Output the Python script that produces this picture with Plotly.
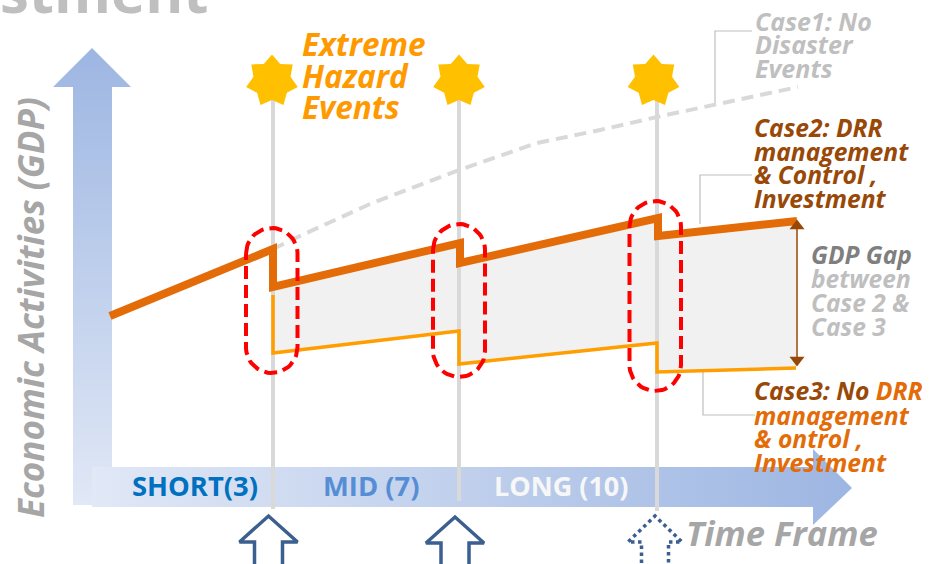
import numpy as np
import plotly.graph_objects as go

FONT = "Open Sans"

# Economic activity paths, x in frame units and y on the inverted activity scale
case1_x = [273, 300, 370, 459, 537, 600, 657, 715, 798]
case1_y = [249, 236, 204, 170, 143, 130, 117, 105, 87]
case2_x = [110, 273, 273, 460, 460, 658, 658, 797]
case2_y = [316, 249, 287, 243, 263, 218, 236, 221]
case3_x = [273, 273, 459, 459, 657, 657, 796]
case3_y = [295, 353, 331, 364, 343, 372, 368]

# Hazard events
event_x = [273, 459, 657]
event_top = [98, 98, 98]
event_bottom = [509, 501, 511]
star_x = [272, 459, 653.5]
star_y = [81, 81, 81]

# Dashed capsules around each event
capsule_left = [246, 433, 629.5]
capsule_right = [297.5, 485, 681]
capsule_top = [228, 224, 201]
capsule_bottom = [373, 377, 391]

# Hollow policy arrows under the axis
block_tip_x = [268.5, 455, 655]
block_tip_y = [516, 517, 516]
block_half_head = [29, 29, 27]
block_half_shaft = [14, 14, 13.5]
block_dash = ["solid", "solid", "dot"]

# Axis arrows
v_arrow_x = [73, 73, 53, 92, 131, 112, 112, 73]
v_arrow_y = [505, 87, 87, 48, 87, 87, 505, 505]
h_arrow_x = [92, 813, 813, 852, 813, 813, 92, 92]
h_arrow_y = [467, 467, 449, 488, 525, 507, 507, 467]

# Leader lines from the case labels
leader_x = [[715, 715, 752], [700, 700, 752], [703, 703, 755]]
leader_y = [[105, 31, 31], [224, 175, 175], [370, 415, 415]]

# GDP gap marker
gap_x = [797, 797]
gap_y = [226, 360]

ORANGE = "#E36C09"
AMBER = "#FF9E00"
BROWN = "#984807"
LIGHT = "#BFBFBF"

# Text: content, left edge, baseline, size, colour, italic
labels = [
    ("stment", -1, 13, 58, LIGHT, False),
    ("Extreme", 301, 56, 31.5, "#FF9900", True),
    ("Hazard", 301, 88, 31.5, "#FF9900", True),
    ("Events", 301, 119, 31.5, "#FF9900", True),
    ("Case1: No", 754, 31, 25, LIGHT, True),
    ("Disaster", 754, 54, 25, LIGHT, True),
    ("Events", 754, 78, 25, LIGHT, True),
    ("Case2: DRR", 753, 137, 24.6, BROWN, True),
    ("management", 753, 161, 24.6, BROWN, True),
    ("&amp; Control ,", 753, 184.5, 24.6, BROWN, True),
    ("Investment", 753, 208, 24.6, BROWN, True),
    ("GDP Gap", 810, 264, 24.5, "#7F7F7F", True),
    ("between", 810, 288, 24.5, LIGHT, True),
    ("Case 2 &amp;", 810, 312, 24.5, LIGHT, True),
    ("Case 3", 810, 336, 24.5, LIGHT, True),
    (f"<span style='color:{BROWN}'>Case3: No </span>DRR", 753, 400, 24.7, ORANGE, True),
    ("management", 753, 425, 24.7, ORANGE, True),
    ("&amp; ontrol ,", 753, 448, 24.7, ORANGE, True),
    ("Investment", 753, 472, 24.7, ORANGE, True),
    ("SHORT(3)", 131, 496, 27.4, "#0070C0", False),
    ("MID (7)", 322, 496, 27.4, "#558ED5", False),
    ("LONG (10)", 493, 496, 27, "#F7F7F7", False),
    ("Time Frame", 685, 546, 34.5, "#A6A6A6", True),
]


def star(cx, cy, outer=26.5, inner=19, points=7):
    angles = -np.pi / 2 + np.arange(2 * points + 1) * np.pi / points
    radii = np.where(np.arange(2 * points + 1) % 2 == 0, outer, inner)
    return cx + radii * np.cos(angles), cy + radii * np.sin(angles)


def capsule(left, right, top, bottom):
    r = (right - left) / 2
    cx = (left + right) / 2
    t = np.linspace(np.pi, 2 * np.pi, 30)
    xs = np.r_[cx + r * np.cos(t), cx - r * np.cos(t)]
    ys = np.r_[top + r + r * np.sin(t), bottom - r - r * np.sin(t)]
    return np.r_[xs, xs[0]], np.r_[ys, ys[0]]


def block_arrow(tip_x, tip_y, head, shaft, head_depth=26, foot=570):
    xs = [tip_x - shaft, tip_x - shaft, tip_x - head, tip_x, tip_x + head, tip_x + shaft, tip_x + shaft]
    ys = [foot, tip_y + head_depth, tip_y + head_depth, tip_y, tip_y + head_depth, tip_y + head_depth, foot]
    return xs, ys


def line(xs, ys, color, width, dash="solid", shape="linear"):
    return go.Scatter(x=xs, y=ys, mode="lines", hoverinfo="skip",
                      line=dict(color=color, width=width, dash=dash, shape=shape))


fig = go.Figure()

# Gradient axis arrows
fig.add_trace(go.Scatter(
    x=v_arrow_x, y=v_arrow_y, mode="none", fill="toself", hoverinfo="skip",
    fillgradient=dict(type="vertical", colorscale=[[0, "#E1E8F6"], [1, "#9DB6E2"]]),
))
fig.add_trace(go.Scatter(
    x=h_arrow_x, y=h_arrow_y, mode="none", fill="toself", hoverinfo="skip",
    fillgradient=dict(type="horizontal", colorscale=[[0, "#E1E8F6"], [1, "#9DB6E2"]]),
))

# Shaded band between the two disaster paths
band_x = case2_x[1:] + case3_x[::-1]
band_y = case2_y[1:] + case3_y[::-1]
fig.add_trace(go.Scatter(x=band_x, y=band_y, mode="none", fill="toself",
                         fillcolor="#F1F1F1", hoverinfo="skip"))

# Event lines and stars
for x, top, bottom in zip(event_x, event_top, event_bottom):
    fig.add_trace(line([x, x], [top, bottom], "#D9D9D9", 4))
for cx, cy in zip(star_x, star_y):
    sx, sy = star(cx, cy)
    fig.add_trace(go.Scatter(x=sx, y=sy, mode="none", fill="toself",
                             fillcolor="#FFC000", hoverinfo="skip"))

# Leader lines
for xs, ys in zip(leader_x, leader_y):
    fig.add_trace(line(xs, ys, LIGHT, 1.2))

# Outcome paths
fig.add_trace(line(case1_x, case1_y, "#D9D9D9", 4, dash="12px,7px"))
fig.add_trace(line(case3_x, case3_y, AMBER, 3.5))
fig.add_trace(line(case2_x, case2_y, ORANGE, 8))

# Double-headed gap marker
fig.add_trace(go.Scatter(
    x=gap_x, y=gap_y, mode="lines+markers", hoverinfo="skip",
    line=dict(color="#974706", width=1.5),
    marker=dict(symbol=["triangle-up", "triangle-down"], size=13, color="#974706"),
))

# Event capsules
for l, r, t, b in zip(capsule_left, capsule_right, capsule_top, capsule_bottom):
    cx_pts, cy_pts = capsule(l, r, t, b)
    fig.add_trace(line(cx_pts, cy_pts, "#FF0000", 4, dash="13px,6px"))

# Policy arrows
for tx, ty, hd, sh, dsh in zip(block_tip_x, block_tip_y, block_half_head, block_half_shaft, block_dash):
    bx, by = block_arrow(tx, ty, hd, sh)
    fig.add_trace(go.Scatter(x=bx, y=by, mode="lines", fill="toself", fillcolor="white",
                             hoverinfo="skip", line=dict(color="#3B5F8F", width=3.5, dash=dsh)))

for text, x, baseline, size, color, italic in labels:
    fig.add_annotation(
        x=x / 940, y=1 - (baseline - 0.389 * size) / 564, xref="paper", yref="paper",
        text=text, showarrow=False,
        xanchor="left", yanchor="middle", align="left", borderpad=0,
        font=dict(family=FONT, size=size, color=color, weight=700,
                  style="italic" if italic else "normal"),
    )

# Rotated y-axis title
fig.add_annotation(
    x=30 / 940, y=1 - 308 / 564, xref="paper", yref="paper",
    text="Economic Activities (GDP)", showarrow=False,
    textangle=-90, xanchor="center", yanchor="middle",
    font=dict(family=FONT, size=35, color="#A6A6A6", weight=700, style="italic"),
)

fig.update_layout(
    width=940, height=564, margin=dict(l=0, r=0, t=0, b=0),
    paper_bgcolor="white", plot_bgcolor="white", showlegend=False,
    xaxis=dict(range=[0, 940], visible=False, fixedrange=True),
    yaxis=dict(range=[564, 0], visible=False, fixedrange=True),
)

fig.write_html("out.html", config=dict(displayModeBar=False))
